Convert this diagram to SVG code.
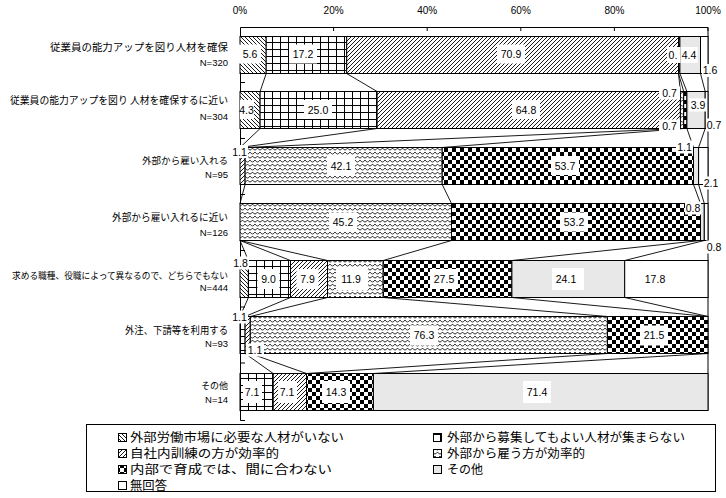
<svg xmlns="http://www.w3.org/2000/svg" width="726" height="498" viewBox="0 0 726 498">
<style>
.seg{stroke:#000;stroke-width:1}
.ax{stroke:#000;stroke-width:1;fill:none}
.cn{stroke:#000;stroke-width:0.9;fill:none}
.lbl{font-family:"Liberation Sans",Arial,sans-serif;font-size:10.5px;text-anchor:middle;fill:#000}
.axl{font-family:"Liberation Sans",Arial,sans-serif;font-size:10px;text-anchor:middle;fill:#000}
.box{fill:#fff}
.cat{font-family:"Noto Sans CJK JP","Noto Sans CJK SC",sans-serif;font-size:10px;text-anchor:end;fill:#000}
.n{font-family:"Liberation Sans",Arial,sans-serif;font-size:9.5px;text-anchor:end;fill:#000}
.leg{font-family:"Noto Sans CJK JP","Noto Sans CJK SC",sans-serif;font-size:12px;fill:#000}
.fa{fill:url(#pa)}.fb{fill:url(#pb)}.fc{fill:url(#pc)}.fd{fill:url(#pd)}.fe{fill:url(#pe)}.ff{fill:#e8e8e8}.fg{fill:#fff}
</style>
<defs>
<pattern id="pa" patternUnits="userSpaceOnUse" width="4" height="4">
<rect width="4" height="4" fill="#fff"/>
<path d="M0,0 L4,4 M-1,3 L1,5 M3,-1 L5,1" stroke="#000" stroke-width="0.9"/>
</pattern>
<pattern id="pb" patternUnits="userSpaceOnUse" width="8" height="7">
<rect width="8" height="7" fill="#fff"/>
<path d="M0,0.5 H8 M0.5,0 V7" stroke="#000" stroke-width="1"/>
</pattern>
<pattern id="pc" patternUnits="userSpaceOnUse" width="4" height="4">
<rect width="4" height="4" fill="#fff"/>
<path d="M0,4 L4,0 M-1,1 L1,-1 M3,5 L5,3" stroke="#000" stroke-width="0.9"/>
</pattern>
<pattern id="pd" patternUnits="userSpaceOnUse" width="10" height="8">
<rect width="10" height="8" fill="#fff"/>
<path d="M0,0 Q2.5,4 5,0 Q7.5,4 10,0 M-2.5,4 Q0,8 2.5,4 Q5,8 7.5,4 Q10,8 12.5,4 M0,8 Q2.5,12 5,8" stroke="#000" stroke-width="0.8" fill="none"/>
</pattern>
<pattern id="pe" patternUnits="userSpaceOnUse" width="8" height="8">
<rect width="8" height="8" fill="#fff"/>
<rect width="4" height="4" fill="#000"/>
<rect x="4" y="4" width="4" height="4" fill="#000"/>
</pattern>
</defs>
<rect width="726" height="498" fill="#fff"/>

<g id="axis">
<path class="ax" d="M240.5,27.5 H708 M240.5,27.5 V420.5 M708,27.5 V410.5"/>
<path class="ax" d="M333.6,27.5 V31 M427.2,27.5 V31 M520.8,27.5 V31 M614.4,27.5 V31 M708,27.5 V31"/>
<path class="ax" d="M240.5,82.5 H245 M240.5,138.5 H245 M240.5,194.5 H245 M240.5,250.5 H245 M240.5,307 H245 M240.5,363 H245 M240.5,420.5 H245"/>
<text class="axl" x="240" y="14">0%</text>
<text class="axl" x="333.6" y="14">20%</text>
<text class="axl" x="427.2" y="14">40%</text>
<text class="axl" x="520.8" y="14">60%</text>
<text class="axl" x="614.4" y="14">80%</text>
<text class="axl" x="708" y="14">100%</text>
</g>

<g id="connectors">
<path class="cn" d="M266.2,73.5 L260.1,91.5 M346.7,73.5 L377.1,91.5 M678.5,73.5 L680.4,91.5 M678.5,73.5 L683.7,91.5 M679.9,73.5 L686.9,91.5 M700.5,73.5 L705.2,91.5"/>
<path class="cn" d="M260.1,128.5 L240,147.5 M377.1,128.5 L240,147.5 M680.4,128.5 L245.1,147.5 M683.7,128.5 L442.2,147.5 M686.9,128.5 L693.5,147.5 M705.2,128.5 L698.6,147.5"/>
<path class="cn" d="M245.1,184.5 L240,203.5 M442.2,184.5 L451.5,203.5 M693.5,184.5 L700.5,203.5 M698.6,184.5 L704.3,203.5"/>
<path class="cn" d="M240,240.5 L248.4,260.5 M240,240.5 L290.5,260.5 M240,240.5 L327.5,260.5 M451.5,240.5 L383.2,260.5 M700.5,240.5 L511.9,260.5 M704.3,240.5 L624.7,260.5"/>
<path class="cn" d="M248.4,297.5 L240,316.5 M290.5,297.5 L245.1,316.5 M327.5,297.5 L250.3,316.5 M383.2,297.5 L607.4,316.5 M511.9,297.5 L708,316.5 M624.7,297.5 L708,316.5"/>
<path class="cn" d="M245.1,353.5 L273.2,373.5 M250.3,353.5 L306.5,373.5 M607.4,353.5 L306.5,373.5 M708,353.5 L373.4,373.5"/>
</g>

<g id="row1">
<text class="cat" x="228" y="51" textLength="178" lengthAdjust="spacingAndGlyphs">従業員の能力アップを図り人材を確保</text>
<text class="n" x="228" y="65.5">N=320</text>
<rect class="seg fa" x="240" y="36.5" width="26.2" height="37"/>
<rect class="seg fb" x="266.2" y="36.5" width="80.5" height="37"/>
<rect class="seg fc" x="346.7" y="36.5" width="331.8" height="37"/>
<rect class="seg fe" x="678.5" y="36.5" width="1.4" height="37"/>
<rect class="seg ff" x="679.9" y="36.5" width="20.6" height="37"/>
<rect class="seg fg" x="700.5" y="36.5" width="7.5" height="37"/>
<rect class="box" x="239" y="44.5" width="22" height="19"/><text class="lbl" x="250" y="58">5.6</text>
<rect class="box" x="289" y="44.5" width="28" height="19"/><text class="lbl" x="303" y="58">17.2</text>
<rect class="box" x="497" y="44.5" width="28" height="19"/><text class="lbl" x="511" y="58">70.9</text>
<rect class="box" x="667" y="47" width="13" height="16"/><text class="lbl" x="673" y="59">0.</text>
<rect class="box" x="680.5" y="47" width="17" height="16"/><text class="lbl" x="689" y="59">4.4</text>
<rect class="box" x="702" y="64" width="17" height="13"/><text class="lbl" x="710" y="74">1.6</text>
</g>

<g id="row2">
<text class="cat" x="228" y="104" textLength="218" lengthAdjust="spacingAndGlyphs">従業員の能力アップを図り 人材を確保するに近い</text>
<text class="n" x="228" y="119.5">N=304</text>
<rect class="seg fa" x="240" y="91.5" width="20.1" height="37"/>
<rect class="seg fb" x="260.1" y="91.5" width="117" height="37"/>
<rect class="seg fc" x="377.1" y="91.5" width="303.3" height="37"/>
<rect class="seg fd" x="680.4" y="91.5" width="3.3" height="37"/>
<rect class="seg fe" x="683.7" y="91.5" width="3.2" height="37"/>
<rect class="seg ff" x="686.9" y="91.5" width="18.3" height="37"/>
<rect class="seg fg" x="705.2" y="91.5" width="2.8" height="37"/>
<rect class="box" x="240" y="100" width="14" height="19"/><text class="lbl" x="246.5" y="113.5">4.3</text>
<rect class="box" x="304" y="100" width="28" height="19"/><text class="lbl" x="318" y="113.5">25.0</text>
<rect class="box" x="512" y="100" width="28" height="19"/><text class="lbl" x="526" y="113.5">64.8</text>
<rect class="box" x="659" y="86.5" width="21" height="13"/><text class="lbl" x="669.5" y="97">0.7</text>
<rect class="box" x="689" y="98.5" width="17" height="13"/><text class="lbl" x="698" y="109">3.9</text>
<rect class="box" x="706" y="118.5" width="16" height="13"/><text class="lbl" x="714" y="129">0.7</text>
<rect class="box" x="659" y="119.5" width="21" height="13"/><text class="lbl" x="669.5" y="130">0.7</text>
</g>

<g id="row3">
<text class="cat" x="228" y="164" textLength="86" lengthAdjust="spacingAndGlyphs" style="font-size:9.5px">外部から雇い入れる</text>
<text class="n" x="228" y="177.5">N=95</text>
<rect class="seg fc" x="240" y="147.5" width="5.1" height="37"/>
<rect class="seg fd" x="245.1" y="147.5" width="197.1" height="37"/>
<rect class="seg fe" x="442.2" y="147.5" width="251.3" height="37"/>
<rect class="seg ff" x="693.5" y="147.5" width="5.1" height="37"/>
<rect class="seg fg" x="698.6" y="147.5" width="9.4" height="37"/>
<rect class="box" x="231" y="145" width="17" height="13"/><text class="lbl" x="239.5" y="155.5">1.1</text>
<rect class="box" x="327" y="156" width="28" height="19"/><text class="lbl" x="341" y="169.5">42.1</text>
<rect class="box" x="551" y="156" width="28" height="19"/><text class="lbl" x="565" y="169.5">53.7</text>
<rect class="box" x="676" y="140.5" width="17" height="13"/><text class="lbl" x="684.5" y="151">1.1</text>
<rect class="box" x="703" y="176.5" width="17" height="13"/><text class="lbl" x="711" y="187">2.1</text>
</g>

<g id="row4">
<text class="cat" x="228" y="221" textLength="116" lengthAdjust="spacingAndGlyphs">外部から雇い入れるに近い</text>
<text class="n" x="228" y="235.5">N=126</text>
<rect class="seg fd" x="240" y="203.5" width="211.5" height="37"/>
<rect class="seg fe" x="451.5" y="203.5" width="249" height="37"/>
<rect class="seg ff" x="700.5" y="203.5" width="3.8" height="37"/>
<rect class="seg fg" x="704.3" y="203.5" width="3.7" height="37"/>
<rect class="box" x="329" y="212.5" width="28" height="19"/><text class="lbl" x="343" y="226">45.2</text>
<rect class="box" x="560" y="212.5" width="28" height="19"/><text class="lbl" x="574" y="226">53.2</text>
<rect class="box" x="685" y="201.5" width="16" height="13"/><text class="lbl" x="693" y="212">0.8</text>
<rect class="box" x="706" y="240.5" width="16" height="13"/><text class="lbl" x="714" y="251">0.8</text>
</g>

<g id="row5">
<text class="cat" x="228" y="279" textLength="216" lengthAdjust="spacingAndGlyphs" style="font-size:9px">求める職種、役職によって異なるので、どちらでもない</text>
<text class="n" x="228" y="290.5">N=444</text>
<rect class="seg fa" x="240" y="260.5" width="8.4" height="37"/>
<rect class="seg fb" x="248.4" y="260.5" width="42.1" height="37"/>
<rect class="seg fc" x="290.5" y="260.5" width="37" height="37"/>
<rect class="seg fd" x="327.5" y="260.5" width="55.7" height="37"/>
<rect class="seg fe" x="383.2" y="260.5" width="128.7" height="37"/>
<rect class="seg ff" x="511.9" y="260.5" width="112.8" height="37"/>
<rect class="seg fg" x="624.7" y="260.5" width="83.3" height="37"/>
<rect class="box" x="232" y="256.5" width="17" height="13"/><text class="lbl" x="240.5" y="267">1.8</text>
<rect class="box" x="257.5" y="269" width="22" height="20"/><text class="lbl" x="268.5" y="283">9.0</text>
<rect class="box" x="296.5" y="269" width="22" height="20"/><text class="lbl" x="307.5" y="283">7.9</text>
<rect class="box" x="336" y="268" width="32" height="22"/><text class="lbl" x="351" y="283">11.9</text>
<rect class="box" x="430" y="269" width="28" height="20"/><text class="lbl" x="444" y="283">27.5</text>
<rect class="box" x="552" y="268" width="32" height="22"/><text class="lbl" x="566" y="283">24.1</text>
<text class="lbl" x="655" y="283">17.8</text>
</g>

<g id="row6">
<text class="cat" x="228" y="334" textLength="103" lengthAdjust="spacingAndGlyphs">外注、下請等を利用する</text>
<text class="n" x="228" y="346.5">N=93</text>
<rect class="seg fb" x="240" y="316.5" width="5.1" height="37"/>
<rect class="seg fc" x="245.1" y="316.5" width="5.2" height="37"/>
<rect class="seg fd" x="250.3" y="316.5" width="357.1" height="37"/>
<rect class="seg fe" x="607.4" y="316.5" width="100.6" height="37"/>
<rect class="box" x="231" y="310.5" width="17" height="13"/><text class="lbl" x="239.5" y="321">1.1</text>
<rect class="box" x="246" y="343.5" width="18" height="13"/><text class="lbl" x="255" y="354">1.1</text>
<rect class="box" x="410" y="325.5" width="28" height="20"/><text class="lbl" x="424" y="339">76.3</text>
<rect class="box" x="640" y="325.5" width="28" height="20"/><text class="lbl" x="654" y="339">21.5</text>
</g>

<g id="row7">
<text class="cat" x="228" y="389" textLength="27" lengthAdjust="spacingAndGlyphs" style="font-size:9px">その他</text>
<text class="n" x="228" y="402.5">N=14</text>
<rect class="seg fb" x="240" y="373.5" width="33.2" height="37"/>
<rect class="seg fc" x="273.2" y="373.5" width="33.3" height="37"/>
<rect class="seg fe" x="306.5" y="373.5" width="66.9" height="37"/>
<rect class="seg ff" x="373.4" y="373.5" width="334.6" height="37"/>
<rect class="box" x="243" y="381" width="19" height="22"/><text class="lbl" x="252" y="396">7.1</text>
<rect class="box" x="278" y="381" width="19" height="22"/><text class="lbl" x="287" y="396">7.1</text>
<rect class="box" x="322" y="381" width="28" height="22"/><text class="lbl" x="336" y="396">14.3</text>
<rect class="box" x="523" y="381" width="28" height="22"/><text class="lbl" x="537" y="396">71.4</text>
</g>

<g id="legend">
<rect x="86.5" y="424.5" width="629" height="67" fill="#fff" stroke="#000" stroke-width="1"/>
<rect class="seg fa" x="118.5" y="433.5" width="8" height="8"/>
<text class="leg" x="130" y="441.5" textLength="214" lengthAdjust="spacingAndGlyphs">外部労働市場に必要な人材がいない</text>
<rect class="seg fb" x="433.5" y="433.5" width="8" height="8"/>
<text class="leg" x="447" y="441.5" textLength="238" lengthAdjust="spacingAndGlyphs">外部から募集してもよい人材が集まらない</text>
<rect class="seg fc" x="118.5" y="449.5" width="8" height="8"/>
<text class="leg" x="130" y="457.5" textLength="149" lengthAdjust="spacingAndGlyphs">自社内訓練の方が効率的</text>
<rect class="seg fd" x="433.5" y="449.5" width="8" height="8"/>
<text class="leg" x="447" y="457.5" textLength="138" lengthAdjust="spacingAndGlyphs">外部から雇う方が効率的</text>
<rect class="seg fe" x="118.5" y="465.5" width="8" height="8"/>
<text class="leg" x="130" y="473.5" textLength="202" lengthAdjust="spacingAndGlyphs">内部で育成では、間に合わない</text>
<rect class="seg ff" x="433.5" y="465.5" width="8" height="8"/>
<text class="leg" x="447" y="473.5" textLength="36" lengthAdjust="spacingAndGlyphs">その他</text>
<rect class="seg fg" x="118.5" y="481.5" width="8" height="8"/>
<text class="leg" x="130" y="489.5" textLength="37" lengthAdjust="spacingAndGlyphs">無回答</text>
</g>
</svg>
